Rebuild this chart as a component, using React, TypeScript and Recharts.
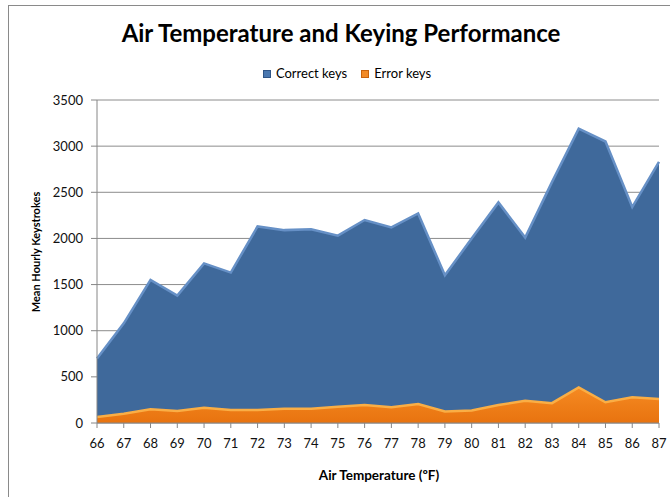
import { AreaChart, Area, XAxis, YAxis, CartesianGrid } from "recharts";

const temperatures = [66, 67, 68, 69, 70, 71, 72, 73, 74, 75, 76, 77, 78, 79, 80, 81, 82, 83, 84, 85, 86, 87];
const correctKeys = [700, 1080, 1550, 1380, 1730, 1630, 2130, 2090, 2100, 2030, 2200, 2120, 2270, 1600, 2000, 2390, 2010, 2610, 3190, 3050, 2340, 2830];
const errorKeys = [65, 100, 150, 130, 165, 140, 140, 155, 155, 175, 195, 170, 205, 125, 135, 195, 240, 215, 385, 225, 280, 260];
const yTicks = [0, 500, 1000, 1500, 2000, 2500, 3000, 3500];

const data = temperatures.map((t, i) => ({
  temp: t,
  correct: correctKeys[i],
  error: errorKeys[i],
}));

const font = "Lato, 'Open Sans', sans-serif";

export default function App() {
  return (
    <div style={{ position: "absolute", left: 0, top: 0, width: 670, height: 497, fontFamily: font, background: "#fff" }}>
      {/* chart frame, only top and left edges are in view */}
      <div style={{ position: "absolute", left: 8, top: 5, width: 661, height: 491, borderLeft: "1px solid #8a8a8a", borderTop: "1px solid #8a8a8a" }} />

      <div style={{ position: "absolute", left: 0, width: 682, top: 18, textAlign: "center", fontSize: 24, lineHeight: "30px", fontWeight: 700, color: "#000" }}>
        Air Temperature and Keying Performance
      </div>

      {/* legend */}
      <div style={{ position: "absolute", left: 0, width: 694, top: 64, textAlign: "center", fontSize: 13, lineHeight: "17px", color: "#000" }}>
        <span style={{ display: "inline-block", width: 6, height: 6, background: "#4A78B0", border: "1px solid #2f5587", marginRight: 5, verticalAlign: "middle" }} />
        <span style={{ verticalAlign: "middle" }}>Correct keys</span>
        <span style={{ display: "inline-block", width: 6, height: 6, background: "#F28A26", border: "1px solid #c8620c", marginLeft: 14, marginRight: 5, verticalAlign: "middle" }} />
        <span style={{ verticalAlign: "middle" }}>Error keys</span>
      </div>

      <div style={{ position: "absolute", left: 0, top: 0 }}>
        <AreaChart width={670} height={497} data={data} margin={{ top: 100, right: 11, bottom: 44, left: 0 }} style={{ overflow: "visible" }}>
          <defs>
            <linearGradient id="orangeFill" x1="0" y1="0" x2="0" y2="1">
              <stop offset="0%" stopColor="#F58A22" />
              <stop offset="100%" stopColor="#E8730F" />
            </linearGradient>
          </defs>
          <CartesianGrid vertical={false} stroke="#8c8c8c" strokeWidth={1} />
          <XAxis
            dataKey="temp"
            tickLine={{ stroke: "#868686" }}
            axisLine={{ stroke: "#868686" }}
            tickSize={5}
            tickMargin={11}
            interval={0}
            tick={{ fontSize: 13, fill: "#111", fontFamily: font }}
          />
          <YAxis
            width={97}
            domain={[0, 3500]}
            ticks={yTicks}
            tickLine={{ stroke: "#868686" }}
            axisLine={{ stroke: "#868686" }}
            tickSize={6}
            tickMargin={8}
            tick={{ fontSize: 13, fill: "#111", fontFamily: font }}
          />
          <Area
            type="linear"
            dataKey="correct"
            stroke="#6690C6"
            strokeWidth={2.5}
            fill="#3F699B"
            fillOpacity={1}
            isAnimationActive={false}
          />
          <Area
            type="linear"
            dataKey="error"
            stroke="#FAAE45"
            strokeWidth={2.5}
            fill="url(#orangeFill)"
            fillOpacity={1}
            isAnimationActive={false}
          />
        </AreaChart>
      </div>

      <div style={{ position: "absolute", left: 35, top: 252, transform: "translate(-50%, -50%) rotate(-90deg)", whiteSpace: "nowrap", fontSize: 11, fontWeight: 700 }}>
        Mean Hourly Keystrokes
      </div>
      <div style={{ position: "absolute", left: 379, top: 475, transform: "translate(-50%, -50%)", whiteSpace: "nowrap", fontSize: 13.5, fontWeight: 700 }}>
        Air Temperature (ºF)
      </div>
    </div>
  );
}
